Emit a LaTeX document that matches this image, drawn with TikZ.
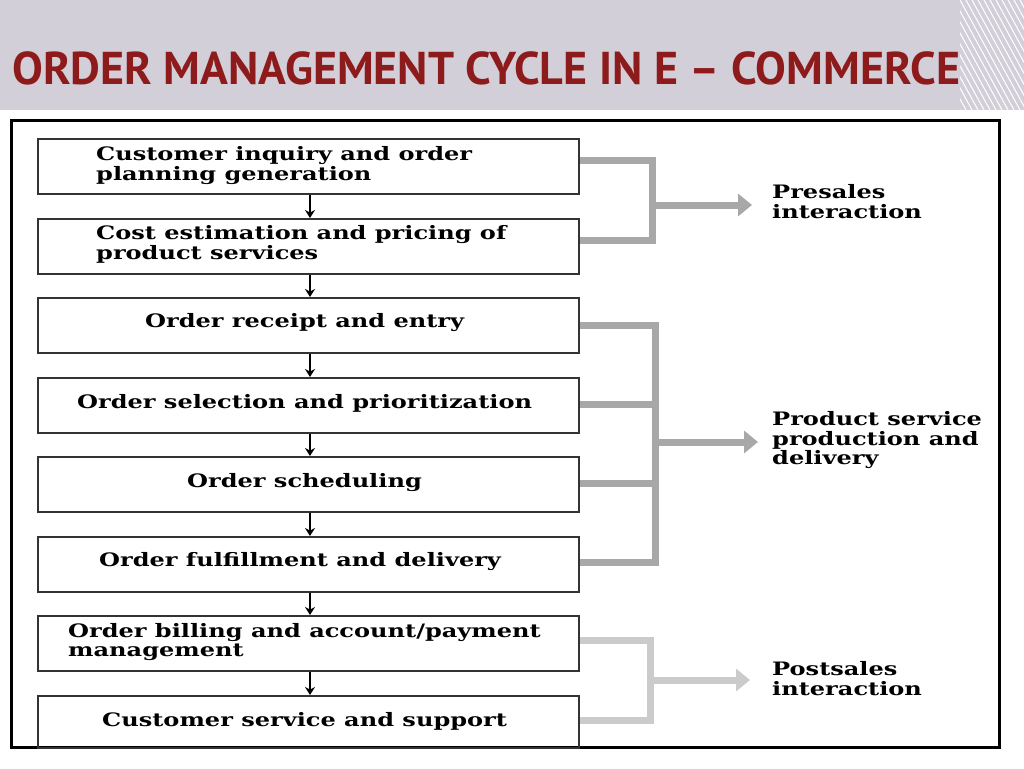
\documentclass[tikz,border=0pt]{standalone}
\usepackage{fontspec}
\setmainfont{DejaVu Serif}
\newfontfamily\titlefont{PT Sans}
\usetikzlibrary{arrows.meta}
\definecolor{hdr}{HTML}{D3CFD9}
\definecolor{ttl}{HTML}{8E1B1B}
\definecolor{brk}{HTML}{A8A8A8}
\newcommand{\widetext}[1]{\scalebox{1.3}[1]{\begin{tabular}{@{}l@{}}#1\end{tabular}}}
\begin{document}
\begin{tikzpicture}[x=1pt,y=-1pt,
  stepbox/.style={draw=black!80,line width=1.5pt,minimum width=541pt,minimum height=55pt,anchor=north west,inner sep=0pt},
  lbl/.style={font=\bfseries\fontsize{18.5}{19}\selectfont,anchor=west,inner sep=0pt},
  flow/.style={-{Stealth[length=8pt,width=10pt]},line width=2pt},
  brack/.style={brk,line width=7pt},
  barrow/.style={brk,line width=7pt,-{Triangle[length=14pt,width=22pt]}},
  side/.style={font=\bfseries\fontsize{18.5}{19}\selectfont,anchor=west,inner sep=0pt}]
\useasboundingbox (0,0) rectangle (1024,768);
\fill[hdr] (0,0) rectangle (1024,110);
\begin{scope}
\clip (960,0) rectangle (1024,110);
\foreach \i in {0,6,...,180}{\draw[white,line width=1pt] (900+\i,0) -- (960+\i,110);}
\end{scope}
\node[anchor=west,text=ttl,inner sep=0pt] (title) at (12,68) {\titlefont\bfseries\fontsize{46}{46}\selectfont ORDER MANAGEMENT CYCLE IN E – COMMERCE};
\draw[line width=3pt] (11,120) rectangle (999,747);
\node[stepbox] (b1) at (37,138) {};
\node[stepbox] (b2) at (37,218) {};
\node[stepbox] (b3) at (37,297) {};
\node[stepbox] (b4) at (37,377) {};
\node[stepbox] (b5) at (37,456) {};
\node[stepbox] (b6) at (37,536) {};
\node[stepbox] (b7) at (37,615) {};
\node[stepbox,minimum height=52pt] (b8) at (37,695) {};
\node[lbl] (t1) at (96,166) {\widetext{Customer inquiry and order\\planning generation}};
\node[lbl] (t2) at (96,245) {\widetext{Cost estimation and pricing of\\product services}};
\node[lbl] (t3) at (145,323) {\widetext{Order receipt and entry}};
\node[lbl] (t4) at (77,404) {\widetext{Order selection and prioritization}};
\node[lbl] (t5) at (187,483) {\widetext{Order scheduling}};
\node[lbl] (t6) at (99,562) {\widetext{Order fulfillment and delivery}};
\node[lbl] (t7) at (68,643) {\widetext{Order billing and account/payment\\management}};
\node[lbl] (t8) at (102,722) {\widetext{Customer service and support}};
\foreach \a/\b in {b1/b2,b2/b3,b3/b4,b4/b5,b5/b6,b6/b7,b7/b8}{\draw[flow] (\a.south -| 310,0) -- (\b.north -| 310,0);}
\draw[brack] (b1.east |- 0,160) -- (652,160) -- (652,240) -- (b2.east |- 0,240);
\coordinate (p1) at (652,205); \coordinate (p2) at (752,205);
\draw[barrow] (p1) -- (p2);
\draw[brack] (b3.east |- 0,325) -- (655,325) -- (655,562) -- (b6.east |- 0,562);
\draw[brack] (b4.east |- 0,404) -- (655,404);
\draw[brack] (b5.east |- 0,483) -- (655,483);
\coordinate (q1) at (655,442); \coordinate (q2) at (758,442);
\draw[barrow] (q1) -- (q2);
\draw[brack,brk!60] (b7.east |- 0,640) -- (650,640) -- (650,720) -- (b8.east |- 0,720);
\coordinate (r1) at (650,680); \coordinate (r2) at (750,680);
\draw[barrow,brk!60] (r1) -- (r2);
\node[side] (s1) at (772,204) {\widetext{Presales\\interaction}};
\node[side] (s2) at (772,441) {\widetext{Product service\\production and\\delivery}};
\node[side] (s3) at (772,681) {\widetext{Postsales\\interaction}};
\end{tikzpicture}
\end{document}
